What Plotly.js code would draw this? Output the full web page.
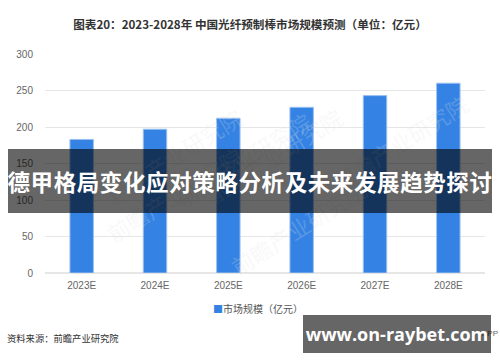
<!DOCTYPE html>
<html>
<head>
<meta charset="utf-8">
<script src="https://cdn.plot.ly/plotly-3.0.1.min.js"></script>
<style>
  html, body { margin:0; padding:0; background:#fff; width:500px; height:362px; overflow:hidden; }
  #wrap { position:relative; width:500px; height:362px; }
  #chart { position:absolute; left:0; top:0; width:500px; height:362px; }
  .ov { position:absolute; background:rgba(0,0,0,0.6); color:#fff; font-weight:bold;
        font-family:"Noto Sans CJK SC","Noto Sans",sans-serif; display:flex; align-items:center; justify-content:center; white-space:nowrap; }
  #banner { left:8px; top:149px; width:484px; height:64px; font-size:22.5px; letter-spacing:0.6px; }
  #site { left:303px; top:315px; width:188px; height:38px; font-size:18px; font-family:"Open Sans","DejaVu Sans",sans-serif; }
</style>
</head>
<body>
<div id="wrap">
  <div id="chart"></div>
  <div id="banner" class="ov">德甲格局变化应对策略分析及未来发展趋势探讨</div>
  <div id="site" class="ov">www.on-raybet.com</div>
</div>
<script>
const categories = ['2023E', '2024E', '2025E', '2026E', '2027E', '2028E'];
const marketSize = [183, 197, 212, 227, 243, 260];
const yTicks = [0, 50, 100, 150, 200, 250, 300];
const seriesName = '市场规模（亿元）';
const chartTitle = '图表20：2023-2028年 中国光纤预制棒市场规模预测（单位：亿元）';
const sourceText = '资料来源：前瞻产业研究院';
const barColor = '#3483e4';

const cjk = '"Noto Sans CJK SC","Noto Sans",sans-serif';

const watermarks = [
  {x: 0.12, y: 0.80}, {x: 0.45, y: 0.78}, {x: 0.98, y: 0.60},
  {x: 0.12, y: 0.10}, {x: 0.52, y: 0.28}, {x: 0.75, y: -0.05}
].map(p => ({
  xref: 'paper', yref: 'paper', x: p.x, y: p.y, text: '前瞻产业研究院',
  showarrow: false, textangle: -32, font: {family: cjk, size: 22, color: 'rgba(225,225,225,0.22)'}
}));

const data = [{
  type: 'bar',
  x: categories,
  y: marketSize,
  name: seriesName,
  marker: {color: barColor, line: {color: '#9cc0ef', width: 1}},
  hoverinfo: 'x+y',
  showlegend: false
}];

const layout = {
  width: 500, height: 362,
  margin: {l: 45, r: 15, t: 54, b: 89},
  paper_bgcolor: '#fff', plot_bgcolor: '#fff',
  title: {text: '<b>' + chartTitle + '</b>', x: 0.5, xanchor: 'center', y: 0.932, yanchor: 'middle',
          font: {family: cjk, size: 11.6, color: '#333'}},
  bargap: 0.68,
  showlegend: false,
  xaxis: {type: 'category', showgrid: false, zeroline: false, showline: false, ticks: '',
          ticklabelstandoff: 5,
          tickfont: {family: '"Liberation Sans","DejaVu Sans",sans-serif', size: 10, color: '#666'}},
  yaxis: {range: [0, 300], tickvals: yTicks, showgrid: true, gridcolor: '#e6e6e6', gridwidth: 1,
          zeroline: true, zerolinecolor: '#e6e6e6', zerolinewidth: 2, showline: false, ticks: '',
          ticklabelstandoff: 11,
          tickfont: {family: '"Liberation Sans","DejaVu Sans",sans-serif', size: 10, color: '#666'}},
  annotations: watermarks.concat([
    {xref: 'paper', yref: 'paper', x: 0.378, y: -0.163, xanchor: 'left', yanchor: 'middle', showarrow: false,
     text: '<span style="color:' + barColor + '">■</span>' + seriesName, font: {family: cjk, size: 10, color: '#555'}},
    {xref: 'paper', yref: 'paper', x: -0.091, y: -0.298, xanchor: 'left', yanchor: 'middle', showarrow: false,
     text: sourceText, font: {family: cjk, size: 9.3, color: '#333'}},
    {xref: 'paper', yref: 'paper', x: 1.034, y: -0.275, xanchor: 'right', yanchor: 'middle', showarrow: false,
     text: 'APP', font: {family: '"Liberation Sans",sans-serif', size: 8, color: '#666'}}
  ])
};

Plotly.newPlot('chart', data, layout, {displayModeBar: false, staticPlot: true});
</script>
</body>
</html>
